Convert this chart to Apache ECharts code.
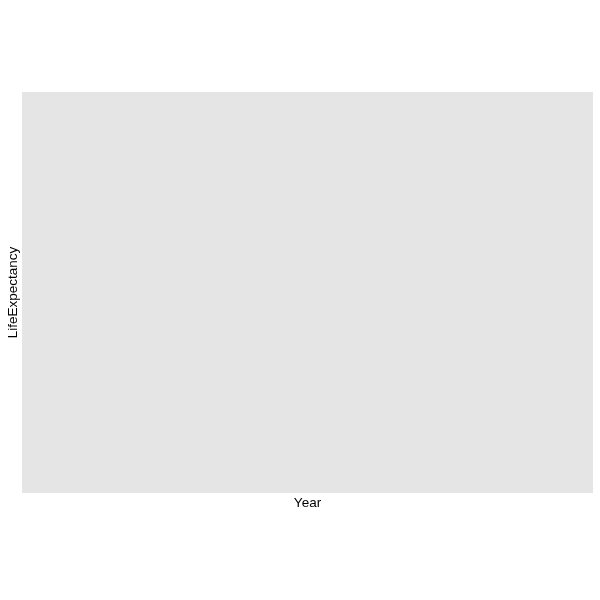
<!DOCTYPE html>
<html>
<head>
<meta charset="utf-8">
<script src="https://cdn.jsdelivr.net/npm/echarts@6/dist/echarts.min.js"></script>
<style>html,body{margin:0;padding:0;background:#fff;}#c{width:600px;height:600px;}</style>
</head>
<body>
<div id="c"></div>
<script>
// The reference shows an empty panel: no data points are drawn.
const years = [];
const lifeExpectancy = [];
const xTitle = 'Year';
const yTitle = 'LifeExpectancy';

const chart = echarts.init(document.getElementById('c'), null, {renderer: 'canvas'});
const font = {fontFamily: 'Liberation Sans, Arial, sans-serif', fontSize: 13.5, color: '#000'};
chart.setOption({
  animation: false,
  backgroundColor: '#ffffff',
  grid: {left: 22, right: 7, top: 92, bottom: 107, show: true, backgroundColor: '#e5e5e5', borderWidth: 0,
         containLabel: false, outerBoundsMode: 'none'},
  xAxis: {
    type: 'value', name: xTitle, nameLocation: 'middle', nameGap: 3,
    nameTextStyle: Object.assign({verticalAlign: 'top'}, font),
    axisLine: {show: false}, axisTick: {show: false}, axisLabel: {show: false}, splitLine: {show: false}
  },
  yAxis: {
    type: 'value', name: yTitle, nameLocation: 'middle', nameGap: 2,
    nameTextStyle: font,
    axisLine: {show: false}, axisTick: {show: false}, axisLabel: {show: false}, splitLine: {show: false}
  },
  series: [{type: 'line', data: years.map((y, i) => [y, lifeExpectancy[i]])}]
});
</script>
</body>
</html>
